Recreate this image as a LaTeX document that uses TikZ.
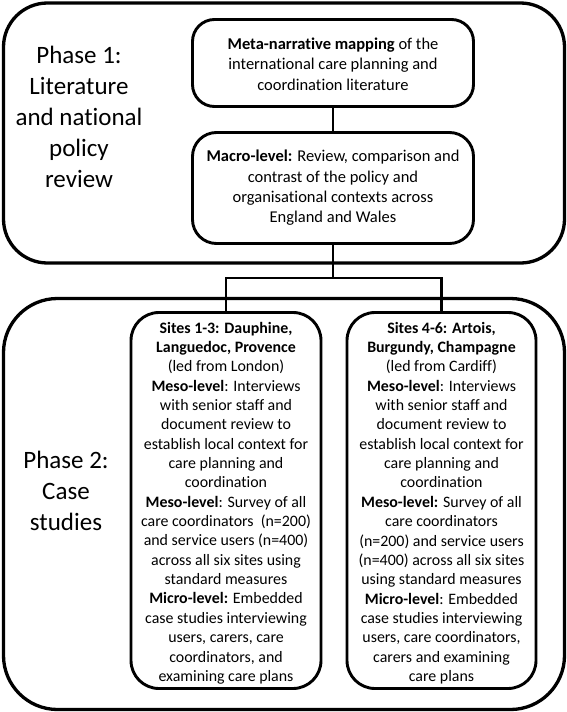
\documentclass[tikz,border=0pt]{standalone}
\usepackage{fontspec}
\setmainfont[Ligatures=NoCommon]{Carlito}
\begin{document}
\begin{tikzpicture}[x=1pt,y=-1pt,
  outerbox/.style={draw, line width=3.3pt, rounded corners=44pt, inner sep=0pt},
  innerbox/.style={draw, line width=2.9pt, inner sep=0pt},
  link/.style={line width=2.6pt},
  phaselabel/.style={align=center, font=\fontsize{25}{31}\selectfont, inner sep=0pt},
  toptext/.style={align=center, font=\fontsize{16.5}{20.3}\selectfont, inner sep=0pt},
  sitetext/.style={align=center, font=\fontsize{15.9}{19.35}\selectfont, inner sep=0pt}]
\useasboundingbox (0,0) rectangle (567,712);

% Phase 1
\node[outerbox, minimum width=561pt, minimum height=260pt] (p1) at (284,133) {};
\node[innerbox, rounded corners=22pt, minimum width=281pt, minimum height=87pt] (meta) at (333,63) {};
\node[innerbox, rounded corners=24pt, minimum width=281pt, minimum height=111pt] (macro) at (333,188) {};
\node[phaselabel] (p1lab) at (79,117) {Phase 1:\\Literature\\and national\\policy\\review};
\node[toptext] (metatext) at (333,64) {\textbf{Meta-narrative mapping} of the\\international care planning and\\coordination literature};
\node[toptext] (macrotext) at (333,188) {\textbf{Macro-level:} Review, comparison and\\contrast of the policy and\\organisational contexts across\\England and Wales};

% Phase 2
\node[outerbox, rounded corners=54pt, minimum width=561pt, minimum height=411pt] (p2) at (284,504) {};
\node[innerbox, rounded corners=28pt, minimum width=190pt, minimum height=376pt] (s1) at (226,500.5) {};
\node[innerbox, rounded corners=28pt, minimum width=189pt, minimum height=376pt] (s2) at (441.5,500.5) {};
\node[phaselabel] (p2lab) at (66,491) {Phase 2:\\Case\\studies};
\node[sitetext] (s1text) at (226,503) {\textbf{Sites 1-3: Dauphine,}\\\textbf{Languedoc, Provence}\\(led from London)\\\textbf{Meso-level}: Interviews\\with senior staff and\\document review to\\establish local context for\\care planning and\\coordination\\\textbf{Meso-level}: Survey of all\\care coordinators~~(n=200)\\and service users (n=400)\\across all six sites using\\standard measures\\\textbf{Micro-level:} Embedded\\case studies interviewing\\users, carers, care\\coordinators, and\\examining care plans};
\node[sitetext] (s2text) at (441.5,503) {\textbf{Sites 4-6: Artois,}\\\textbf{Burgundy, Champagne}\\(led from Cardiff)\\\textbf{Meso-level}: Interviews\\with senior staff and\\document review to\\establish local context for\\care planning and\\coordination\\\textbf{Meso-level:} Survey of all\\care coordinators\\(n=200) and service users\\(n=400) across all six sites\\using standard measures\\\textbf{Micro-level}: Embedded\\case studies interviewing\\users, care coordinators,\\carers and examining\\care plans};

% connectors
\coordinate (j) at (333,278);
\draw[link] (meta.south) -- (macro.north);
\draw[link] (macro.south) -- (j);
\draw[link] (s1.north) |- (j) -| (s2.north);
\end{tikzpicture}
\end{document}
